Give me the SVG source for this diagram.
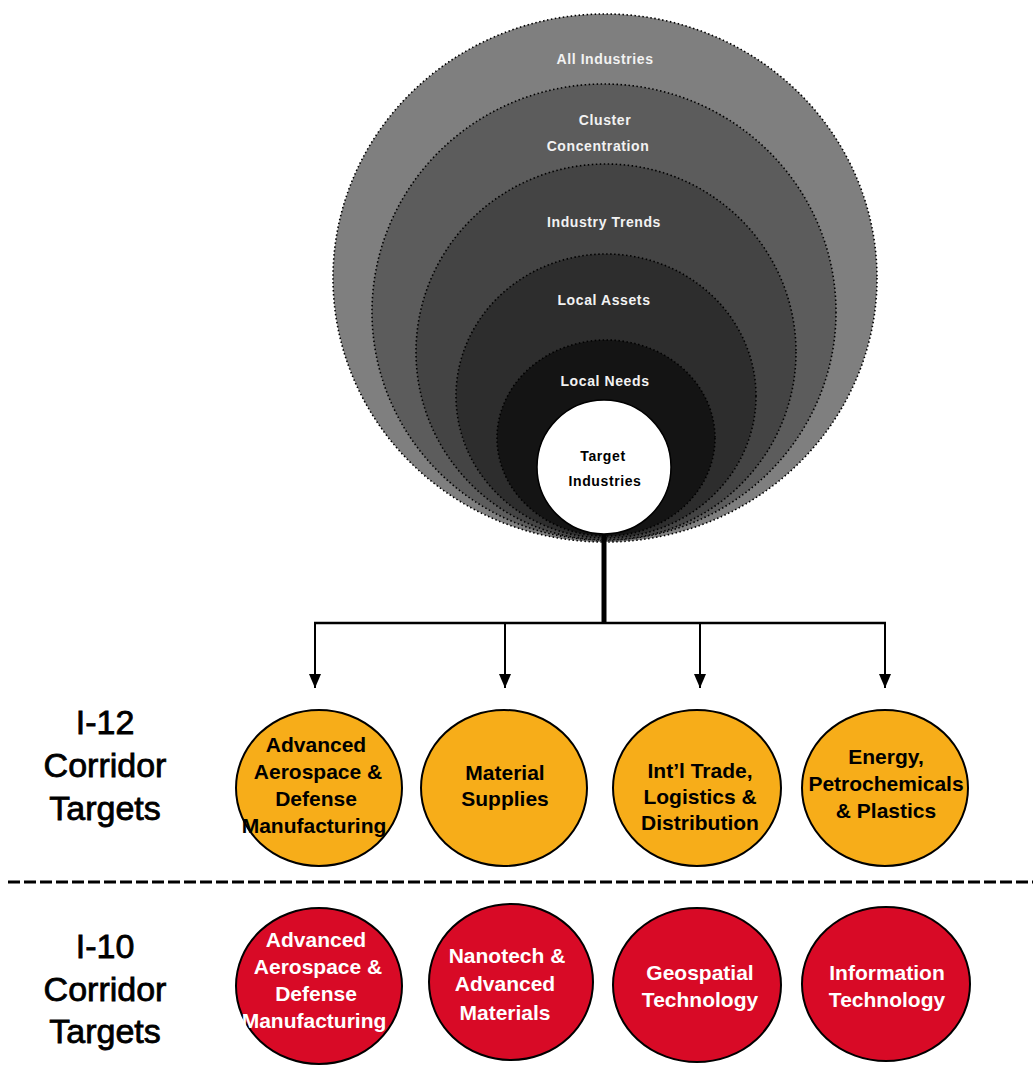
<svg xmlns="http://www.w3.org/2000/svg" width="1033" height="1065" viewBox="0 0 1033 1065">
  <defs>
    <marker id="arrow" viewBox="0 0 14 12" refX="14" refY="6" markerWidth="14" markerHeight="12" markerUnits="userSpaceOnUse" orient="auto">
      <path d="M0,0 L14,6 L0,12 Z" fill="#000"/>
    </marker>
    <style>
      .ring { stroke: #000; stroke-width: 1.6; stroke-dasharray: 1.5 2.5; }
      .ringlbl { font-family: "Liberation Sans", Arial, sans-serif; font-size: 14px; font-weight: bold; fill: #f2f2f2; text-anchor: middle; letter-spacing: 0.6px; }
      .side { font-family: "Liberation Sans", Arial, sans-serif; font-size: 34px; fill: #000; stroke: #000; stroke-width: 0.8px; text-anchor: middle; }
      .tgt { stroke: #000; stroke-width: 2; }
      .y { fill: #f7ad19; }
      .r { fill: #d80a26; }
      .tl { font-family: "Liberation Sans", Arial, sans-serif; font-size: 21px; font-weight: bold; text-anchor: middle; }
      .tl-y { fill: #000; }
      .tl-r { fill: #fff; }
      .conn { stroke: #000; fill: none; }
    </style>
  </defs>

  <rect width="1033" height="1065" fill="#fff"/>

  <!-- nested funnel of criteria -->
  <g id="funnel">
    <g id="all-industries">
      <ellipse class="ring" cx="605" cy="278" rx="272" ry="264" fill="#7f7f7f"/>
      <text class="ringlbl" x="605" y="64">All Industries</text>
    </g>
    <g id="cluster-concentration">
      <ellipse class="ring" cx="604" cy="312" rx="232" ry="228" fill="#5c5c5c"/>
      <text class="ringlbl" x="605" y="125">Cluster</text>
      <text class="ringlbl" x="598" y="151">Concentration</text>
    </g>
    <g id="industry-trends">
      <ellipse class="ring" cx="606" cy="352" rx="190" ry="188" fill="#444444"/>
      <text class="ringlbl" x="604" y="227">Industry Trends</text>
    </g>
    <g id="local-assets">
      <ellipse class="ring" cx="606" cy="396" rx="150" ry="142" fill="#2d2d2d"/>
      <text class="ringlbl" x="604" y="305">Local Assets</text>
    </g>
    <g id="local-needs">
      <ellipse class="ring" cx="606" cy="438" rx="109" ry="98" fill="#141414"/>
      <text class="ringlbl" x="605" y="386">Local Needs</text>
    </g>
    <g id="target-industries">
      <circle cx="604" cy="467" r="67" fill="#fff" stroke="#000" stroke-width="1.5"/>
      <text class="ringlbl" x="603" y="461" style="fill:#000">Target</text>
      <text class="ringlbl" x="605" y="486" style="fill:#000">Industries</text>
    </g>
  </g>

  <!-- connectors -->
  <g id="connectors">
    <line class="conn" x1="604" y1="534" x2="604" y2="623" stroke-width="5"/>
    <line class="conn" x1="314" y1="623" x2="886" y2="623" stroke-width="2.5"/>
    <line class="conn" x1="315" y1="623" x2="315" y2="688" stroke-width="2" marker-end="url(#arrow)"/>
    <line class="conn" x1="505" y1="623" x2="505" y2="688" stroke-width="2" marker-end="url(#arrow)"/>
    <line class="conn" x1="700" y1="623" x2="700" y2="688" stroke-width="2" marker-end="url(#arrow)"/>
    <line class="conn" x1="885" y1="623" x2="885" y2="688" stroke-width="2" marker-end="url(#arrow)"/>
  </g>

  <!-- row labels -->
  <g id="label-i12">
    <text class="side" x="105" y="734">I-12</text>
    <text class="side" x="105" y="777">Corridor</text>
    <text class="side" x="105" y="820">Targets</text>
  </g>
  <g id="label-i10">
    <text class="side" x="105" y="958">I-10</text>
    <text class="side" x="105" y="1001">Corridor</text>
    <text class="side" x="105" y="1043">Targets</text>
  </g>

  <!-- I-12 corridor targets -->
  <g id="i12-aerospace">
    <ellipse class="tgt y" cx="319" cy="788" rx="83" ry="78"/>
    <text class="tl tl-y" x="316" y="752">Advanced</text>
    <text class="tl tl-y" x="318" y="779">Aerospace &amp;</text>
    <text class="tl tl-y" x="316" y="806">Defense</text>
    <text class="tl tl-y" x="314" y="833">Manufacturing</text>
  </g>
  <g id="i12-material">
    <ellipse class="tgt y" cx="504" cy="788" rx="83" ry="78"/>
    <text class="tl tl-y" x="505" y="780">Material</text>
    <text class="tl tl-y" x="505" y="806">Supplies</text>
  </g>
  <g id="i12-trade">
    <ellipse class="tgt y" cx="697" cy="788" rx="84" ry="78"/>
    <text class="tl tl-y" x="700" y="778">Int’l Trade,</text>
    <text class="tl tl-y" x="700" y="804">Logistics &amp;</text>
    <text class="tl tl-y" x="700" y="830">Distribution</text>
  </g>
  <g id="i12-energy">
    <ellipse class="tgt y" cx="885" cy="788" rx="83" ry="78"/>
    <text class="tl tl-y" x="886" y="764">Energy,</text>
    <text class="tl tl-y" x="886" y="791">Petrochemicals</text>
    <text class="tl tl-y" x="886" y="818">&amp; Plastics</text>
  </g>

  <!-- corridor divider -->
  <line id="divider" x1="8" y1="882" x2="1033" y2="882" stroke="#000" stroke-width="3" stroke-dasharray="12 4"/>

  <!-- I-10 corridor targets -->
  <g id="i10-aerospace">
    <ellipse class="tgt r" cx="319" cy="986" rx="83" ry="78"/>
    <text class="tl tl-r" x="316" y="947">Advanced</text>
    <text class="tl tl-r" x="318" y="974">Aerospace &amp;</text>
    <text class="tl tl-r" x="316" y="1001">Defense</text>
    <text class="tl tl-r" x="314" y="1028">Manufacturing</text>
  </g>
  <g id="i10-nanotech">
    <ellipse class="tgt r" cx="511" cy="982" rx="82" ry="78"/>
    <text class="tl tl-r" x="507" y="963">Nanotech &amp;</text>
    <text class="tl tl-r" x="505" y="991">Advanced</text>
    <text class="tl tl-r" x="505" y="1020">Materials</text>
  </g>
  <g id="i10-geospatial">
    <ellipse class="tgt r" cx="697" cy="985" rx="84" ry="77"/>
    <text class="tl tl-r" x="700" y="980">Geospatial</text>
    <text class="tl tl-r" x="700" y="1007">Technology</text>
  </g>
  <g id="i10-it">
    <ellipse class="tgt r" cx="886" cy="984" rx="84" ry="77"/>
    <text class="tl tl-r" x="887" y="980">Information</text>
    <text class="tl tl-r" x="887" y="1007">Technology</text>
  </g>
</svg>
